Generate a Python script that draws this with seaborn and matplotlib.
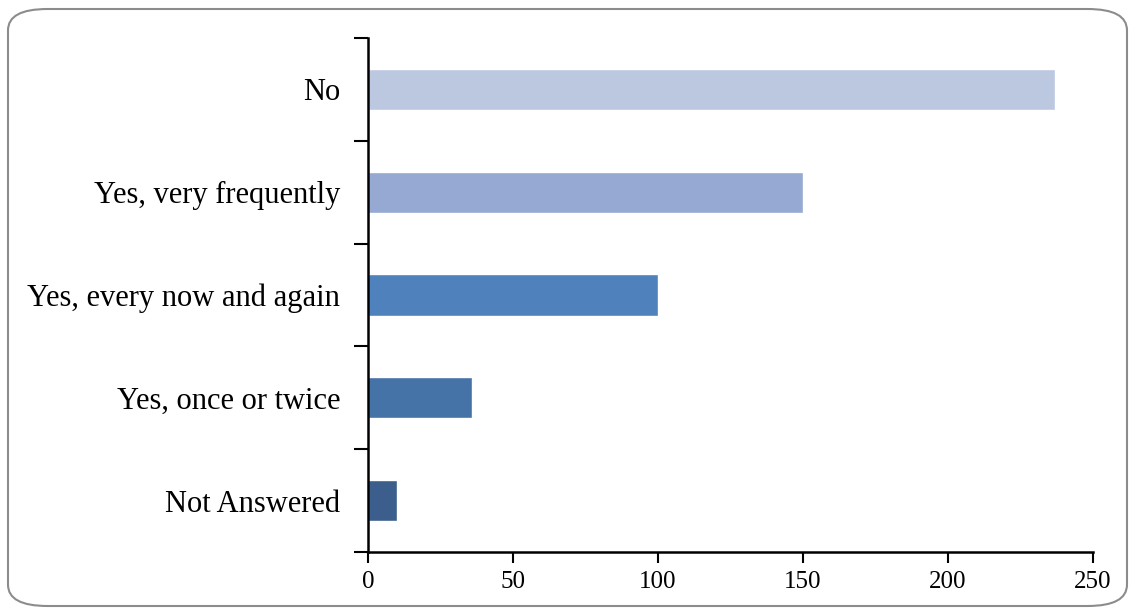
# Horizontal bar chart of survey answers, drawn with seaborn

import matplotlib.pyplot as plt
from matplotlib.patches import FancyBboxPatch
from matplotlib.ticker import FixedLocator, NullFormatter
import pandas as pd
import seaborn as sns

# Data
answers = ["No", "Yes, very frequently", "Yes, every now and again",
           "Yes, once or twice", "Not Answered"]
counts = [237, 150, 100, 36, 10]
bar_colors = ["#BCC8E0", "#95A9D2", "#4F81BD", "#4572A7", "#3B5E8C"]
x_ticks = [0, 50, 100, 150, 200, 250]

df = pd.DataFrame({"answer": answers, "count": counts})

sns.set_style("white")
plt.rcParams["font.family"] = ["Liberation Serif", "DejaVu Serif"]

fig = plt.figure(figsize=(11.3, 6.09), dpi=100)
ax = fig.add_axes([368 / 1130, 1 - 552 / 609, (1093 - 368) / 1130, (552 - 38) / 609])

sns.barplot(data=df, x="count", y="answer", hue="answer", palette=bar_colors,
            orient="h", width=0.4, legend=False, saturation=1, ax=ax)

ax.set_xlim(0, 250)
ax.set_ylim(len(answers) - 0.5, -0.5)
ax.set_xticks(x_ticks)
ax.set_xlabel("")
ax.set_ylabel("")

# category ticks sit between the bars
ax.yaxis.set_minor_locator(FixedLocator([i - 0.5 for i in range(len(answers) + 1)]))
ax.yaxis.set_minor_formatter(NullFormatter())
ax.tick_params(axis="y", which="major", left=True, length=0, pad=20,
               labelsize=22, labelcolor="black")
ax.tick_params(axis="y", which="minor", left=True, length=10, width=1.5,
               direction="out", color="black")
ax.tick_params(axis="x", which="major", bottom=True, length=8, width=1.5,
               direction="out", color="black", labelsize=18, labelcolor="black", pad=6)

for side in ["top", "right"]:
    ax.spines[side].set_visible(False)
for side in ["left", "bottom"]:
    ax.spines[side].set_color("black")
    ax.spines[side].set_linewidth(1.8)

# rounded frame around the whole chart
frame = FancyBboxPatch((8 / 1130, 1 - 606 / 609), (1127 - 8) / 1130, (606 - 9) / 609,
                       boxstyle="round,pad=0,rounding_size=0.035",
                       transform=fig.transFigure, facecolor="none",
                       edgecolor="#8C8C8C", linewidth=1.5, zorder=-1)
fig.patches.append(frame)

fig.savefig("out.png", dpi=100)
